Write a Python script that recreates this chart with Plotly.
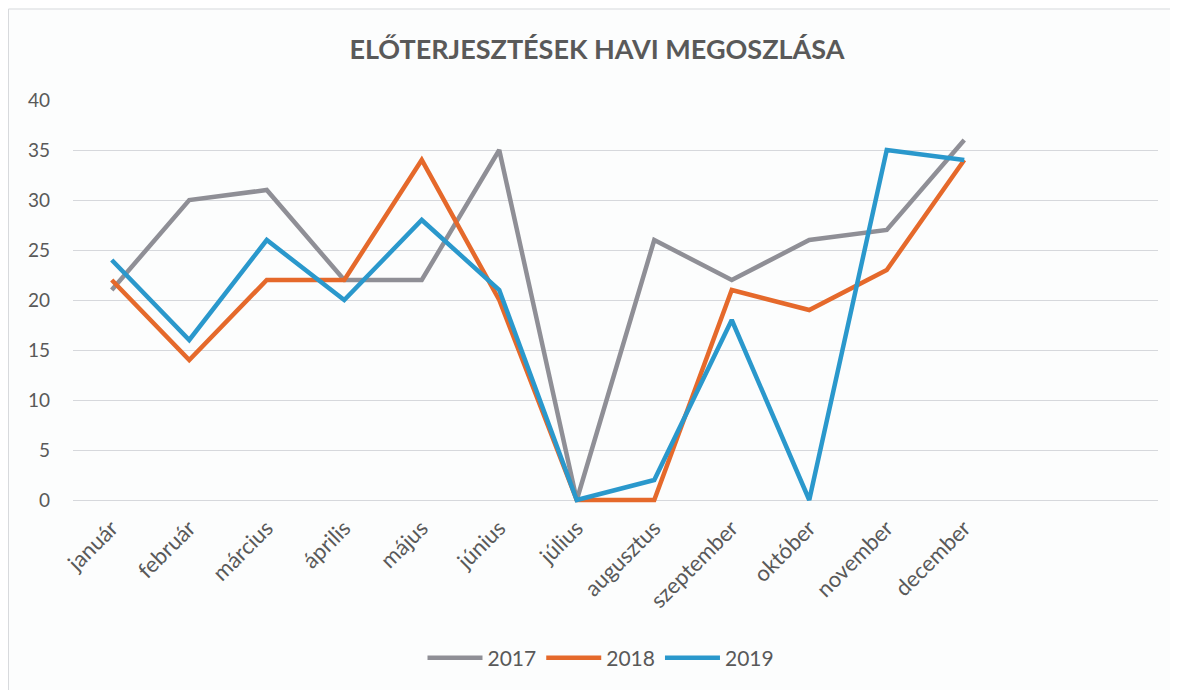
import plotly.graph_objects as go

months = ["január", "február", "március", "április", "május", "június",
          "július", "augusztus", "szeptember", "október", "november", "december"]
years = ["2017", "2018", "2019"]
v2017 = [21, 30, 31, 22, 22, 35, 0, 26, 22, 26, 27, 36]
v2018 = [22, 14, 22, 22, 34, 20, 0, 0, 21, 19, 23, 34]
v2019 = [24, 16, 26, 20, 28, 21, 0, 2, 18, 0, 35, 34]
y_ticks = [0, 5, 10, 15, 20, 25, 30, 35, 40]

series = [v2017, v2018, v2019]
colors = ["#8F8F96", "#E5692B", "#2A98CC"]

x_idx = list(range(len(months)))
fig = go.Figure()
for name, vals, col in zip(years, series, colors):
    fig.add_trace(go.Scatter(
        x=x_idx, y=vals, name=name, mode="lines",
        line=dict(color=col, width=4.5, shape="linear"),
        cliponaxis=False,
    ))

FONT = "Lato, Open Sans, sans-serif"
TXT = "#595959"

# layout geometry (figure is drawn with an 8px page offset)
ML, MR, MT, MB = 65, 28, 92, 188
PW = 1178 - ML - MR
PH = 690 - MT - MB

fig.update_layout(
    width=1178, height=690,
    paper_bgcolor="#FCFDFD", plot_bgcolor="#FCFDFD",
    margin=dict(l=ML, r=MR, t=MT, b=MB, autoexpand=False),
    font=dict(family=FONT, color=TXT, size=19),
    title=dict(text="<b>ELŐTERJESZTÉSEK HAVI MEGOSZLÁSA</b>",
               x=(597 - 8) / 1178, xanchor="center", xref="container",
               y=1 - (50 - 8) / 690, yanchor="middle", yref="container",
               font=dict(size=27, color=TXT, family=FONT)),
    xaxis=dict(range=[-0.5, 13.5], tickmode="array", tickvals=x_idx, ticktext=months,
               tickangle=-45, showgrid=False, zeroline=False, showline=False,
               ticks="", automargin=False, tickfont=dict(size=22, color=TXT)),
    yaxis=dict(range=[-1, 40], tickmode="array", tickvals=y_ticks,
               showgrid=True, gridcolor="#D6D8DC", gridwidth=1, zeroline=False,
               showline=False, ticks="", ticklabelstandoff=22, automargin=False,
               tickfont=dict(size=19, color=TXT)),
    legend=dict(orientation="h", x=(601 - 8 - ML) / PW, xanchor="center",
                y=-(658 - 8 - (MT + PH)) / PH, yanchor="middle",
                font=dict(size=21, color=TXT), bgcolor="rgba(0,0,0,0)",
                itemwidth=55, tracegroupgap=0),
    showlegend=True,
    shapes=[
        dict(type="line", xref="paper", yref="paper",
             x0=-(ML - 0.5) / PW, x1=-(ML - 0.5) / PW,
             y0=-MB / PH, y1=1 + (MT - 1) / PH,
             line=dict(color="#D8DADD", width=1), layer="below"),
        dict(type="line", xref="paper", yref="paper",
             x0=-(ML - 0.5) / PW, x1=1 + MR / PW,
             y0=1 + (MT - 1) / PH, y1=1 + (MT - 1) / PH,
             line=dict(color="#D8DADD", width=1), layer="below"),
    ],
)

fig.write_html("out.html")
